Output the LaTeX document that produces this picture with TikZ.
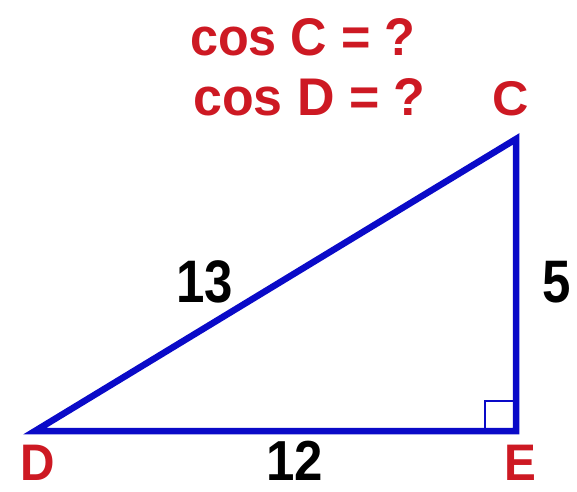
\documentclass[tikz,border=0pt]{standalone}
\usepackage{fontspec}
\setmainfont{Liberation Sans}
\usetikzlibrary{calc}
\definecolor{tri}{RGB}{10,10,200}
\definecolor{lab}{RGB}{205,25,35}
\tikzset{
  side/.style={draw=tri, line width=6.5pt},
  sq/.style={draw=tri, line width=2.8pt},
  qtext/.style={inner sep=0pt, anchor=base west, text=lab, font=\bfseries\fontsize{53}{56}\selectfont},
  vlabel/.style={inner sep=0pt, anchor=base, text=lab, font=\bfseries\fontsize{53}{56}\selectfont},
  num/.style={inner sep=0pt, anchor=base, text=black, font=\bfseries\fontsize{60}{64}\selectfont},
}
\begin{document}
\begin{tikzpicture}[x=1pt,y=-1pt]
\useasboundingbox (0,0) rectangle (577,491);
\coordinate (D) at (35,431);
\coordinate (E) at (516,431);
\coordinate (C) at (516,139);
\draw[side] (D) -- (E) -- (C) -- cycle;
\draw[sq] ($(E)+(-31,0)$) -- ++(0,-30) -- ++(31,0);
\node[qtext] (q1) at (190,55) {\scalebox{0.95}[1]{cos C = ?}};
\node[qtext] (q2) at (193,115) {\scalebox{0.98}[1]{cos D = ?}};
\node[vlabel] (lc) at (511,115) {\scalebox{0.95}[0.92]{C}};
\node[vlabel] (ld) at (38,480) {\scalebox{0.9}[0.97]{D}};
\node[vlabel] (le) at (520,480) {\scalebox{0.9}[0.97]{E}};
\node[num] (n13) at (205,302) {\scalebox{0.85}[1]{13}};
\node[num] (n5) at (557,302) {\scalebox{0.85}[1]{5}};
\node[num] (n12) at (295,480) {\scalebox{0.85}[0.94]{12}};
\end{tikzpicture}
\end{document}
